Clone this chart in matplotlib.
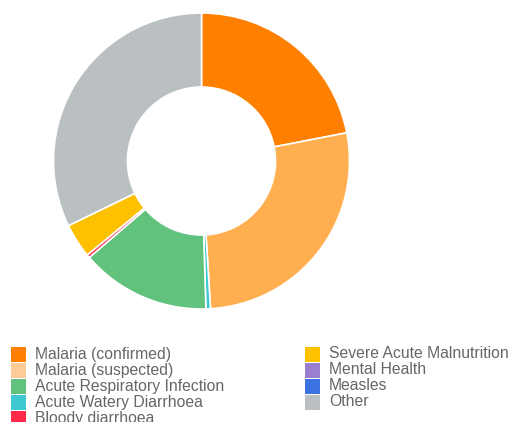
import matplotlib
matplotlib.use("Agg")
import matplotlib.pyplot as plt
from matplotlib.patches import Rectangle

plt.rcParams['font.family'] = ['Liberation Sans', 'DejaVu Sans']

# Legend order
legend_labels = ["Malaria (confirmed)", "Malaria (suspected)", "Acute Respiratory Infection",
                 "Acute Watery Diarrhoea", "Bloody diarrhoea", "Severe Acute Malnutrition",
                 "Mental Health", "Measles", "Other"]
legend_colors = ["#FF8000", "#FFCC99", "#60C27C", "#3EC8D2", "#FF2A4A", "#FFC000",
                 "#9B7FCF", "#3B73E0", "#BAC0C2"]

# Pie order (clockwise from top) and values (share, per mille of full circle)
pie_labels = ["Malaria (confirmed)", "Malaria (suspected)", "Acute Watery Diarrhoea",
              "Acute Respiratory Infection", "Bloody diarrhoea", "Severe Acute Malnutrition",
              "Other"]
pie_values = [79.0, 97.5, 1.8, 51.0, 1.3, 13.5, 115.9]
pie_colors = ["#FF8000", "#FFAF50", "#3EC8D2", "#60C27C", "#FF2A4A", "#FFC000", "#BAC0C2"]

fig = plt.figure(figsize=(5.15, 4.22), dpi=100)
W, H = 515, 422
cx, cy, r = 201.5, 161, 148
ax = fig.add_axes([(cx - r) / W, (H - cy - r) / H, 2 * r / W, 2 * r / H])
ax.pie(pie_values, colors=pie_colors, startangle=90, counterclock=False, radius=1.0,
       wedgeprops=dict(width=0.5, edgecolor="white", linewidth=1.2))
ax.set_xlim(-1, 1)
ax.set_ylim(-1, 1)
ax.set_aspect("equal")
ax.axis("off")

# Manual legend, two columns (5 + 4)
col_x = [11, 305]
row_y0 = 354
row_dy = 16
for i, (lab, col) in enumerate(zip(legend_labels, legend_colors)):
    c = 0 if i < 5 else 1
    rrow = i if i < 5 else i - 5
    x = col_x[c]
    y = row_y0 + rrow * row_dy
    fig.patches.append(Rectangle((x / W, (H - y - 7.5) / H), 15 / W, 15 / H,
                                 transform=fig.transFigure, facecolor=col, edgecolor="none"))
    fig.text((x + 24) / W, (H - y) / H, lab, fontsize=11.3, color="#666666",
             va="center", ha="left")

fig.savefig("out.png", dpi=100, facecolor="white")
